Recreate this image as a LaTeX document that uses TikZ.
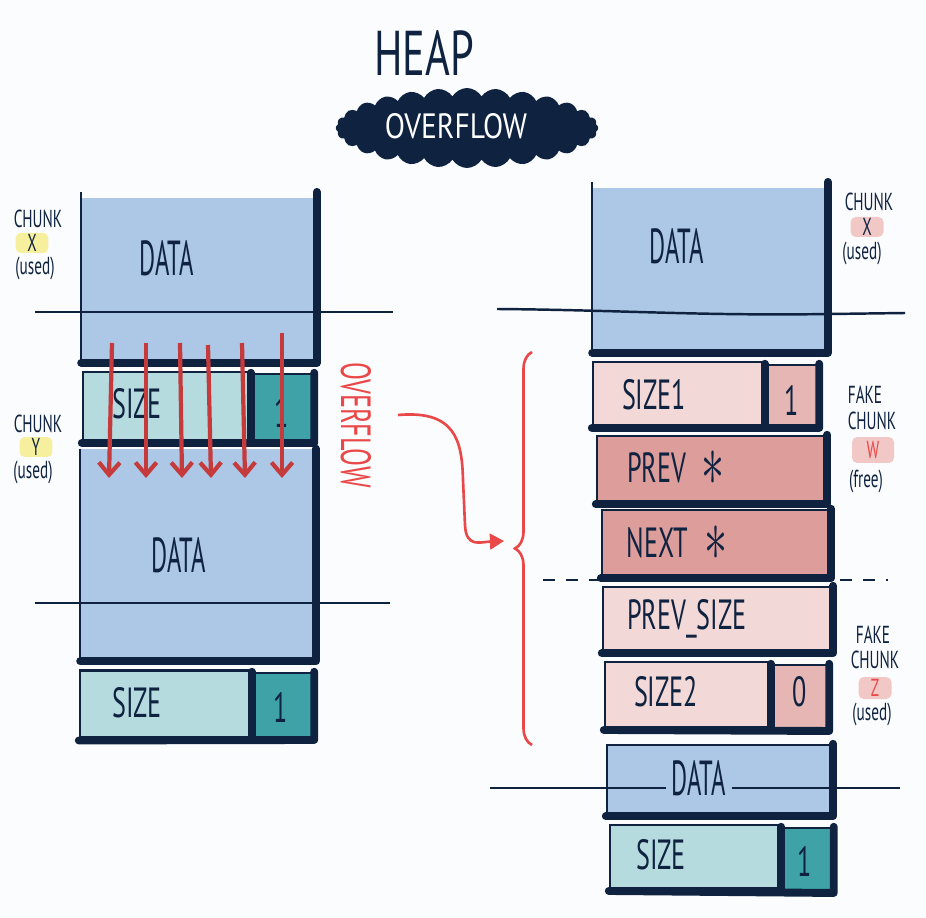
\documentclass[tikz,border=0pt]{standalone}
\usepackage{fontspec}
\setmainfont{PT Sans}
\usepackage{graphicx}
\usepackage{tikz}
\usetikzlibrary{arrows.meta, positioning, shapes.symbols, decorations.pathreplacing}

\definecolor{paper}{HTML}{FBFCFE}
\definecolor{navy}{HTML}{0F2341}
\definecolor{datablue}{HTML}{ACC8E6}
\definecolor{tealpale}{HTML}{B5DBDE}
\definecolor{tealdark}{HTML}{3FA2A7}
\definecolor{pinkpale}{HTML}{F2D8D6}
\definecolor{pinkflag}{HTML}{E6B6B4}
\definecolor{pinkmid}{HTML}{DC9D9B}
\definecolor{arrowred}{HTML}{C53A3B}
\definecolor{ovfred}{HTML}{EA4848}
\definecolor{hlyellow}{HTML}{F6EF9E}
\definecolor{hlpink}{HTML}{F1C8C6}

\newcommand{\hw}[2][0.62]{\scalebox{#1}[1]{#2}}
\newcommand{\ptrmark}{\raisebox{-0.15ex}{\scalebox{1.7}{$\ast$}}}

\begin{document}
\begin{tikzpicture}[
                x=0.02cm, y=-0.02cm,
                every node/.style={text=navy, inner sep=0pt},
                hand/.style={font=\fontsize{24}{26}\selectfont},
                big/.style={font=\fontsize{28}{30}\selectfont},
                tag/.style={font=\fontsize{14}{15}\selectfont},
                datablock/.style={rectangle, fill=datablue},
                field/.style={rectangle, draw=navy, line width=1.4pt, fill=#1},
                rim/.style={draw=navy, line width=1.4pt},
                heavyrim/.style={draw=navy, line width=4.5pt, line join=round, line cap=round},
                sepline/.style={draw=navy, line width=1.4pt},
                cutline/.style={draw=navy, line width=1.6pt, dash pattern=on 7pt off 6pt},
                flow/.style={-{Straight Barb[length=7pt,width=12pt,line width=2.4pt]}, draw=arrowred, line width=2.4pt},
                redline/.style={draw=ovfred, line width=1.5pt},
                hl/.style={fill=#1, rounded corners=3pt, minimum width=0.66cm, minimum height=0.4cm},
                blob/.style={cloud, cloud puffs=28, cloud puff arc=120, fill=navy, minimum width=5.25cm, minimum height=1.6cm}
            ]

            \useasboundingbox (0,0) rectangle (926,918);
            \fill[paper] (0,0) rectangle (926,918);

            % Title
            \node[font=\fontsize{36}{38}\selectfont] (heap) at (424,53) {\hw[0.67]{HEAP}};
            \node[blob] (banner) at (467,128) {};
            \node[font=\fontsize{20}{22}\selectfont, text=white] (bannerTxt) at (456,126) {\hw[0.84]{OVERFLOW}};

            % Left: chunk X
            \node[datablock, minimum width=4.7cm, minimum height=3.3cm] (xData) at (199,280) {};
            \draw[rim] ([yshift=3pt]xData.north west) -- (xData.south west);
            \draw[heavyrim] ([yshift=3pt]xData.north east) -- (xData.south east) -- (xData.south west);
            \node[big] (xDataTxt) at (167,258) {\hw[0.5]{DATA}};
            \draw[sepline] (35,312) -- (393,312);

            % Left: chunk Y header
            \node[field=tealpale, minimum width=3.38cm, minimum height=1.36cm] (yHead) at (167.5,406) {};
            \node[field=tealdark, minimum width=1.22cm, minimum height=1.32cm] (yFlag) at (282.5,407) {};
            \draw[heavyrim] (yFlag.north west) -- (yFlag.south west);
            \draw[heavyrim] (yFlag.north east) -- ([yshift=-1pt]yFlag.south east) -- ([yshift=-1pt]yHead.south west);
            \node[hand] (yHeadTxt) at (137,404) {\hw{SIZE}};
            \node[hand] (yFlagTxt) at (282,412) {\hw{1}};

            % Left: chunk Y data
            \node[datablock, minimum width=4.7cm, minimum height=4.24cm] (yData) at (198,555) {};
            \draw[rim] (yData.north west) -- (yData.south west);
            \draw[heavyrim] (yData.north east) -- (yData.south east) -- (yData.south west);
            \node[big] (yDataTxt) at (179,555) {\hw[0.5]{DATA}};
            \draw[sepline] (35,603) -- (390,603);

            % Left: next header
            \node[field=tealpale, minimum width=3.46cm, minimum height=1.34cm] (nHead) at (166.5,704) {};
            \node[field=tealdark, minimum width=1.2cm, minimum height=1.28cm] (nFlag) at (283,705) {};
            \draw[heavyrim] (nFlag.north west) -- (nFlag.south west);
            \draw[heavyrim] (nFlag.north east) -- ([yshift=-1pt]nFlag.south east) -- ([yshift=-1pt]nHead.south west);
            \node[hand] (nHeadTxt) at (137,703) {\hw{SIZE}};
            \node[hand] (nFlagTxt) at (281,707) {\hw{1}};

            % Overflow arrows
            \foreach \i/\xa/\xb/\ya in {1/112/109/343, 2/146/146/343, 3/180/182/343, 4/208/211/345, 5/242/245/343, 6/282/282/333} {
                \coordinate (fs\i) at (\xa,\ya);
                \coordinate (fe\i) at (\xb,478);
                \draw[flow] (fs\i) -- (fe\i);
            }

            % Left labels
            \node[tag] (xChunk) at (38,219) {\hw{CHUNK}};
            \node[tag, hl=hlyellow] (xMark) at (32,243) {\hw{X}};
            \node[tag] (xUsed) at (35,268) {\hw{(used)}};
            \node[tag] (yChunk) at (38,424) {\hw{CHUNK}};
            \node[tag, hl=hlyellow] (yMark) at (36,447) {\hw{Y}};
            \node[tag] (yUsed) at (33,472) {\hw{(used)}};

            % Overflow label and arrow
            \node[hand, text=ovfred, rotate=-90] (ovfTxt) at (356,425) {\hw{OVERFLOW}};
            \coordinate (ovfFrom) at (398,415);
            \coordinate (ovfTo) at (504,541);
            \draw[redline, -{Triangle[length=8pt,width=9pt]}] (ovfFrom) .. controls (455,410) and (462,440) .. (463,480) -- (465,525) .. controls (466,548) and (480,542) .. (ovfTo);
            \coordinate (brBot) at (532,745);
            \coordinate (brTop) at (532,352);
            \draw[redline, decorate, decoration={brace, amplitude=0.34cm}] (brBot) -- (brTop);

            % Right: chunk X
            \node[datablock, minimum width=4.7cm, minimum height=3.3cm] (rData) at (710,270) {};
            \draw[rim] ([yshift=3pt]rData.north west) -- (rData.south west);
            \draw[heavyrim] ([yshift=3pt]rData.north east) -- (rData.south east) -- (rData.south west);
            \node[big] (rDataTxt) at (677,246) {\hw[0.5]{DATA}};
            \draw[sepline] (497,309) .. controls (620,310) and (700,316) .. (830,314) -- (905,313);

            % Right: fake chunk W
            \node[field=pinkpale, minimum width=3.46cm, minimum height=1.26cm] (wHead) at (679.5,393.5) {};
            \node[field=pinkflag, minimum width=1.04cm, minimum height=1.2cm] (wFlag) at (792,395) {};
            \draw[heavyrim] (wFlag.north west) -- (wFlag.south west);
            \draw[heavyrim] (wFlag.north east) -- ([yshift=-1pt]wFlag.south east) -- ([yshift=-1pt]wHead.south west);
            \node[hand] (wHeadTxt) at (654,395) {\hw{SIZE1}};
            \node[hand] (wFlagTxt) at (792,400) {\hw{1}};

            \node[field=pinkmid, minimum width=4.58cm, minimum height=1.34cm] (wPrev) at (711.5,469.5) {};
            \draw[heavyrim] (wPrev.north east) -- (wPrev.south east) -- (wPrev.south west);
            \node[hand] (wPrevTxt) at (676,468) {\hw{PREV\hspace{0.6em}\ptrmark}};

            \node[field=pinkmid, minimum width=4.56cm, minimum height=1.34cm] (wNext) at (716,543.5) {};
            \draw[heavyrim] (wNext.north east) -- (wNext.south east) -- (wNext.south west);
            \node[hand] (wNextTxt) at (677,543) {\hw{NEXT\hspace{0.6em}\ptrmark}};

            \coordinate (cutL) at (543,580);
            \coordinate (cutR) at (888,580);
            \draw[cutline] (cutL) -- (cutR);

            % Right: fake chunk Z
            \node[field=pinkpale, minimum width=4.58cm, minimum height=1.3cm] (zPrev) at (717.5,619.5) {};
            \draw[heavyrim] (zPrev.north east) -- (zPrev.south east) -- (zPrev.south west);
            \node[hand] (zPrevTxt) at (687,619) {\hw{PREV\_SIZE}};

            \node[field=pinkpale, minimum width=3.34cm, minimum height=1.3cm] (zHead) at (688.5,694.5) {};
            \node[field=pinkflag, minimum width=1.12cm, minimum height=1.26cm] (zFlag) at (800,696.5) {};
            \draw[heavyrim] (zFlag.north west) -- (zFlag.south west);
            \draw[heavyrim] (zFlag.north east) -- ([yshift=-1pt]zFlag.south east) -- ([yshift=-1pt]zHead.south west);
            \node[hand] (zHeadTxt) at (666,692) {\hw{SIZE2}};
            \node[hand] (zFlagTxt) at (800,692) {\hw{0}};

            % Right: data and next header
            \node[field=datablue, minimum width=4.5cm, minimum height=1.4cm] (bData) at (719.5,780) {};
            \draw[heavyrim] (bData.north east) -- (bData.south east) -- (bData.south west);
            \draw[sepline] (490,788) -- (900,788);
            \node[big, fill=datablue, inner xsep=3pt] (bDataTxt) at (699,778) {\hw[0.5]{DATA}};

            \node[field=tealpale, minimum width=3.36cm, minimum height=1.26cm] (bHead) at (694,856.5) {};
            \node[field=tealdark, minimum width=1.0cm, minimum height=1.24cm] (bFlag) at (807.5,859) {};
            \draw[heavyrim] (bFlag.north west) -- (bFlag.south west);
            \draw[heavyrim] (bFlag.north east) -- ([yshift=-1pt]bFlag.south east) -- ([yshift=-1pt]bHead.south west);
            \node[hand] (bHeadTxt) at (661,855) {\hw{SIZE}};
            \node[hand] (bFlagTxt) at (805,861) {\hw{1}};

            % Right labels
            \node[tag] (rChunk) at (869,202) {\hw{CHUNK}};
            \node[tag, hl=hlpink] (rMark) at (867,227) {\hw{X}};
            \node[tag] (rUsed) at (862,253) {\hw{(used)}};

            \node[tag] (wFake) at (865,395) {\hw{FAKE}};
            \node[tag] (wChunk) at (872,421) {\hw{CHUNK}};
            \node[tag, hl=hlpink, text=ovfred, minimum width=0.84cm, minimum height=0.52cm] (wMark) at (873,450) {\hw{W}};
            \node[tag] (wFree) at (866,481) {\hw{(free)}};

            \node[tag] (zFake) at (873,635) {\hw{FAKE}};
            \node[tag] (zChunk) at (875,660) {\hw{CHUNK}};
            \node[tag, hl=hlpink, text=ovfred, minimum height=0.44cm] (zMark) at (875,688) {\hw{Z}};
            \node[tag] (zUsed) at (872,714) {\hw{(used)}};
\end{tikzpicture}
\end{document}
